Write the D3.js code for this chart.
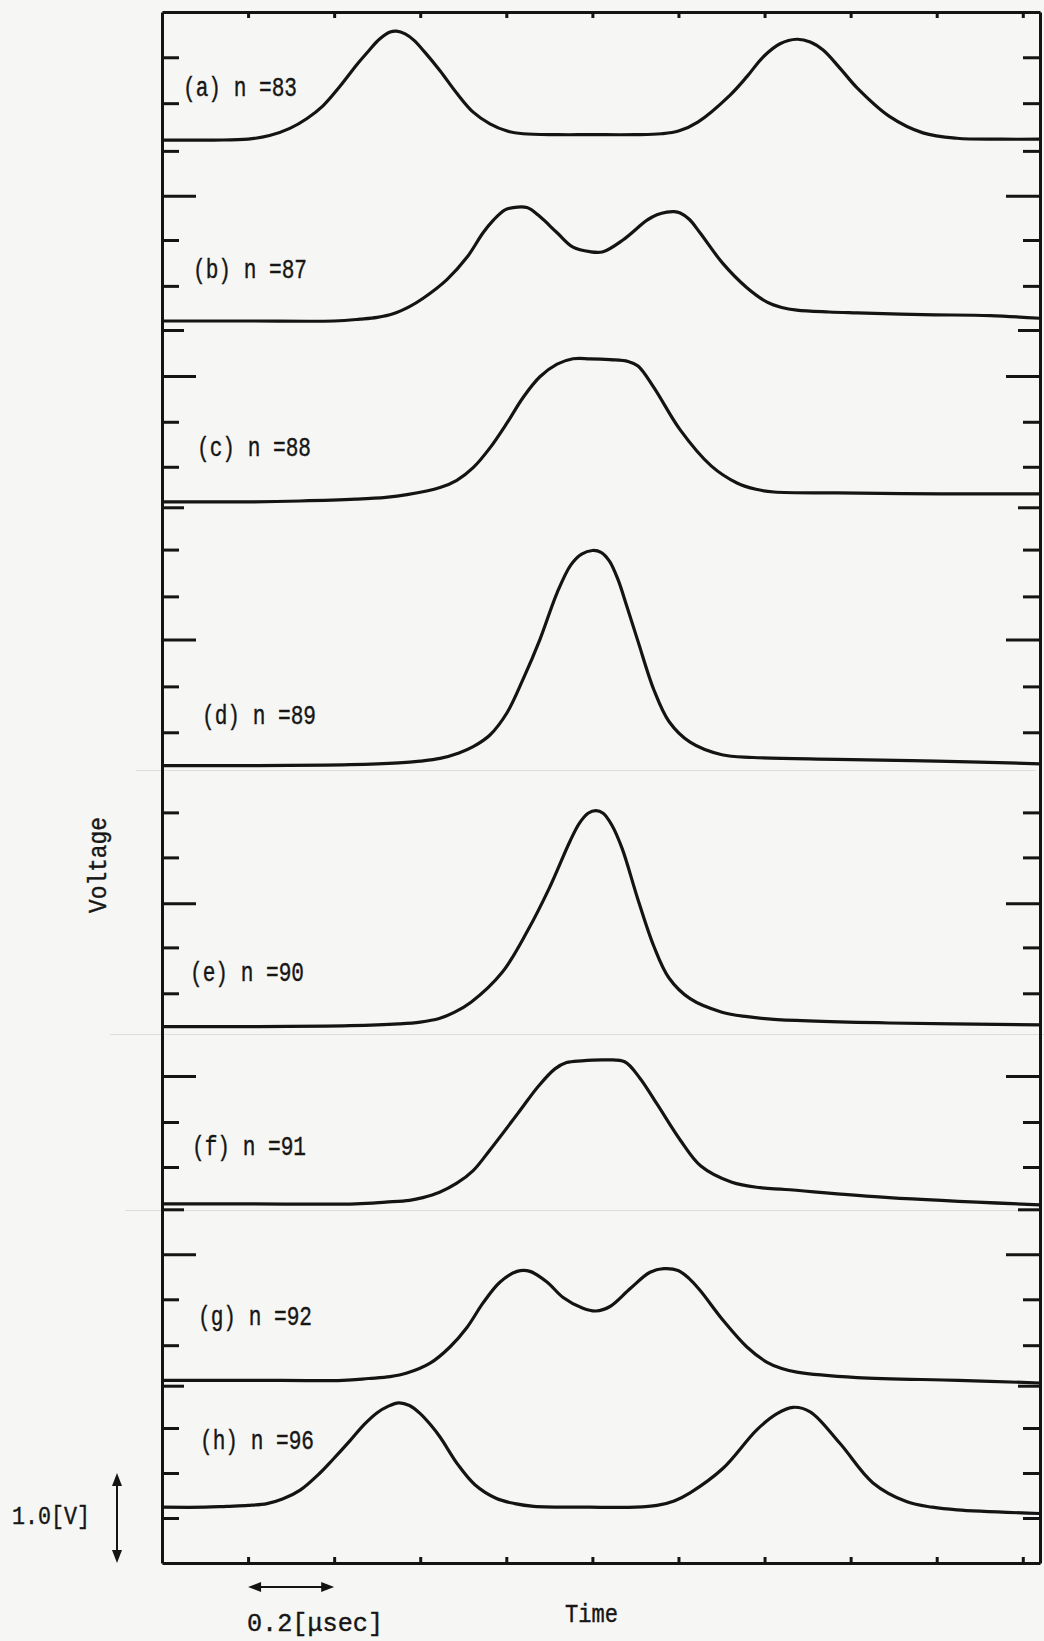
<!DOCTYPE html>
<html>
<head>
<meta charset="utf-8">
<script src="https://cdn.jsdelivr.net/npm/d3@7"></script>
<style>
  html, body { margin: 0; padding: 0; background: #f6f6f4; }
  svg { display: block; }
  text { font-family: "Liberation Mono", "DejaVu Sans Mono", monospace; fill: #161616; }
</style>
</head>
<body>
<svg id="chart" width="1044" height="1641"></svg>
<script>
// ---- data -------------------------------------------------------------
// Trace titles, top to bottom
const traceLabels = ["(a) n =83", "(b) n =87", "(c) n =88", "(d) n =89",
                     "(e) n =90", "(f) n =91", "(g) n =92", "(h) n =96"];

// DC offset of each trace on the shared voltage axis [V]
const traceOffsets = [15.81, 13.80, 11.79, 8.86, 5.96, 3.99, 2.03, 0.62];

// Each trace: [time (µs), voltage above its offset (V)]
const traceA = [[0,0],[0.12,0.0],[0.2,0.01],[0.25,0.05],[0.297,0.13],[0.337,0.24],[0.374,0.38],
  [0.414,0.60],[0.453,0.84],[0.48,0.99],[0.505,1.12],[0.53,1.20],[0.545,1.21],[0.565,1.18],
  [0.585,1.11],[0.61,0.98],[0.646,0.77],[0.685,0.52],[0.723,0.31],[0.762,0.18],[0.802,0.10],
  [0.839,0.07],[0.92,0.06],[0.994,0.06],[1.10,0.06],[1.16,0.07],[1.20,0.10],[1.245,0.20],
  [1.32,0.50],[1.36,0.71],[1.396,0.92],[1.436,1.07],[1.475,1.12],[1.506,1.09],[1.536,1.0],
  [1.575,0.80],[1.615,0.58],[1.691,0.26],[1.768,0.08],[1.847,0.02],[1.95,0.01],[2.04,0.01]];
const traceB = [[0,0],[0.2,0.0],[0.40,0.0],[0.46,0.02],[0.50,0.04],[0.537,0.08],[0.575,0.16],
  [0.606,0.25],[0.662,0.46],[0.709,0.71],[0.746,0.98],[0.77,1.12],[0.795,1.23],[0.816,1.26],
  [0.848,1.26],[0.878,1.16],[0.918,0.98],[0.955,0.82],[0.994,0.77],[1.025,0.77],[1.071,0.90],
  [1.127,1.12],[1.15,1.18],[1.173,1.21],[1.19,1.215],[1.204,1.20],[1.225,1.13],[1.25,0.98],
  [1.303,0.64],[1.359,0.37],[1.406,0.21],[1.44,0.15],[1.475,0.12],[1.55,0.10],[1.615,0.09],
  [1.768,0.07],[1.924,0.06],[2.04,0.03]];
const traceC = [[0,0],[0.2,0.0],[0.321,0.01],[0.45,0.03],[0.52,0.05],[0.569,0.08],[0.646,0.16],
  [0.685,0.24],[0.723,0.38],[0.762,0.60],[0.802,0.88],[0.839,1.16],[0.878,1.39],[0.918,1.53],
  [0.955,1.59],[0.994,1.59],[1.041,1.58],[1.083,1.56],[1.106,1.51],[1.143,1.27],[1.204,0.80],
  [1.276,0.40],[1.336,0.21],[1.38,0.14],[1.422,0.11],[1.568,0.10],[1.81,0.09],[2.04,0.09]];
const traceD = [[0,0],[0.2,0.0],[0.437,0.01],[0.55,0.03],[0.60,0.05],[0.646,0.08],[0.69,0.14],
  [0.723,0.21],[0.762,0.34],[0.802,0.59],[0.839,0.96],[0.878,1.40],[0.918,1.92],[0.95,2.23],
  [0.975,2.35],[1.0,2.39],[1.02,2.37],[1.04,2.27],[1.06,2.06],[1.08,1.77],[1.106,1.38],
  [1.143,0.84],[1.178,0.49],[1.227,0.26],[1.301,0.12],[1.373,0.09],[1.568,0.07],[1.8,0.05],
  [2.04,0.02]];
const traceE = [[0,0],[0.2,0.0],[0.437,0.01],[0.55,0.03],[0.60,0.05],[0.644,0.09],[0.68,0.16],
  [0.718,0.27],[0.79,0.60],[0.85,1.07],[0.899,1.53],[0.948,2.06],[0.97,2.26],[0.99,2.37],
  [1.008,2.40],[1.025,2.37],[1.045,2.24],[1.069,1.98],[1.106,1.41],[1.143,0.89],[1.178,0.54],
  [1.227,0.31],[1.301,0.16],[1.36,0.11],[1.422,0.08],[1.689,0.04],[2.04,0.02]];
const traceF = [[0,0],[0.2,0.0],[0.45,0.0],[0.52,0.02],[0.575,0.04],[0.606,0.07],[0.645,0.13],
  [0.685,0.23],[0.723,0.37],[0.762,0.60],[0.826,1.00],[0.875,1.31],[0.913,1.50],[0.94,1.57],
  [0.975,1.59],[1.03,1.60],[1.075,1.58],[1.11,1.40],[1.15,1.11],[1.204,0.71],[1.252,0.42],
  [1.324,0.24],[1.39,0.18],[1.448,0.16],[1.689,0.07],[2.04,-0.01]];
const traceG = [[0,0],[0.2,0.0],[0.42,0.0],[0.48,0.02],[0.53,0.04],[0.569,0.08],[0.623,0.19],
  [0.669,0.37],[0.709,0.59],[0.746,0.86],[0.785,1.09],[0.825,1.21],[0.855,1.21],[0.895,1.09],
  [0.932,0.92],[0.978,0.80],[1.008,0.77],[1.041,0.82],[1.088,1.02],[1.134,1.20],[1.166,1.24],
  [1.199,1.22],[1.225,1.13],[1.25,1.00],[1.303,0.67],[1.359,0.37],[1.406,0.20],[1.44,0.13],
  [1.475,0.09],[1.615,0.03],[1.85,0.0],[2.04,-0.03]];
const traceH = [[0,0],[0.1,0.0],[0.15,0.01],[0.2,0.02],[0.244,0.04],[0.28,0.09],[0.321,0.19],
  [0.367,0.38],[0.397,0.53],[0.437,0.74],[0.47,0.92],[0.50,1.05],[0.525,1.12],[0.55,1.16],
  [0.575,1.13],[0.60,1.04],[0.625,0.91],[0.646,0.78],[0.688,0.47],[0.727,0.25],[0.776,0.10],
  [0.82,0.04],[0.864,0.01],[0.994,0.0],[1.10,0.0],[1.15,0.02],[1.19,0.07],[1.227,0.16],
  [1.303,0.43],[1.382,0.86],[1.429,1.04],[1.466,1.11],[1.506,1.06],[1.575,0.71],[1.652,0.27],
  [1.731,0.06],[1.79,0.0],[1.847,-0.03],[2.04,-0.07]];
const traces = [traceA, traceB, traceC, traceD, traceE, traceF, traceG, traceH];

// Time ticks every 0.2 µs
const timeTicks = [0.2, 0.4, 0.6, 0.8, 1.0, 1.2, 1.4, 1.6, 1.8, 2.0];
// Graticule marks on the voltage axis [V]
const voltTicksMinor = [16.73, 16.22, 15.69, 14.70, 14.19, 12.68, 12.18, 11.26, 10.74, 9.74, 9.23,
  8.34, 7.84, 6.84, 6.33, 4.90, 4.40, 2.93, 2.42, 1.50, 1.00, 0.50];
const voltTicksMid = [13.70, 11.73, 3.93, 1.97];
const voltTicksMajor = [15.19, 13.19, 10.26, 7.33, 5.41, 3.43];

// ---- layout -----------------------------------------------------------
const plot = { left: 162, right: 1040, top: 12, bottom: 1563 };
const labelAnchors = [[183, 96], [193, 278], [197, 456], [202, 724],
                      [190, 981], [192, 1155], [198, 1325], [200, 1449]];
// faint paste seams between the mounted oscillograms: [y, x0, x1]
const seams = [[770, 136, 1036], [1034, 110, 1044], [1210, 125, 1036]];
const ink = "#141414";

const svg = d3.select("#chart");

const x = d3.scaleLinear().domain([0, 2.04]).range([plot.left, plot.right]);
const y = d3.scaleLinear().domain([0, 17.233]).range([plot.bottom, plot.top]);

svg.append("g").selectAll("line.seam")
  .data(seams)
  .join("line")
  .attr("class", "seam")
  .attr("x1", d => d[1]).attr("x2", d => d[2])
  .attr("y1", d => d[0] + 0.5).attr("y2", d => d[0] + 0.5)
  .attr("stroke", "#dedede").attr("stroke-width", 1);

function styleAxis(g) {
  g.select(".domain").attr("stroke", ink).attr("stroke-width", 3);
  g.selectAll(".tick line").attr("stroke", ink).attr("stroke-width", 3);
  g.selectAll(".tick text").remove();
}

// Top and bottom time axes, ticks pointing inward
svg.append("g").attr("transform", `translate(0,${plot.top})`)
  .call(d3.axisBottom(x).tickValues(timeTicks).tickSize(6).tickSizeOuter(0).tickFormat(""))
  .call(styleAxis);
svg.append("g").attr("transform", `translate(0,${plot.bottom})`)
  .call(d3.axisTop(x).tickValues(timeTicks).tickSize(6).tickSizeOuter(0).tickFormat(""))
  .call(styleAxis);

// Left and right voltage axes, three tick lengths
const tickSets = [[voltTicksMinor, 17], [voltTicksMid, 22], [voltTicksMajor, 34]];
tickSets.forEach(([vals, len], i) => {
  const gl = svg.append("g").attr("transform", `translate(${plot.left},0)`)
    .call(d3.axisRight(y).tickValues(vals).tickSize(len).tickSizeOuter(0).tickFormat(""))
    .call(styleAxis);
  const gr = svg.append("g").attr("transform", `translate(${plot.right},0)`)
    .call(d3.axisLeft(y).tickValues(vals).tickSize(len).tickSizeOuter(0).tickFormat(""))
    .call(styleAxis);
  if (i > 0) { gl.select(".domain").remove(); gr.select(".domain").remove(); }
});

// Traces
const line = d3.line()
  .x(d => x(d[0]))
  .curve(d3.curveCatmullRom.alpha(0.5));

svg.append("g").selectAll("path.trace")
  .data(traces)
  .join("path")
  .attr("class", "trace")
  .attr("fill", "none")
  .attr("stroke", ink)
  .attr("stroke-width", 3.2)
  .attr("stroke-linejoin", "round")
  .attr("d", (pts, i) => line.y(d => y(traceOffsets[i] + d[1]))(pts));

// Trace titles
svg.append("g").selectAll("text.label")
  .data(traceLabels)
  .join("text")
  .attr("class", "label")
  .attr("x", (d, i) => labelAnchors[i][0])
  .attr("y", (d, i) => labelAnchors[i][1])
  .attr("font-size", 27)
  .attr("textLength", 114)
  .attr("lengthAdjust", "spacingAndGlyphs")
  .attr("stroke", "#161616").attr("stroke-width", 0.4)
  .text(d => d);

// Axis titles
svg.append("text")
  .attr("transform", "translate(106,865) rotate(-90)")
  .attr("text-anchor", "middle")
  .attr("font-size", 25)
  .attr("textLength", 96)
  .attr("lengthAdjust", "spacingAndGlyphs")
  .attr("stroke", "#161616").attr("stroke-width", 0.4)
  .text("Voltage");

svg.append("text")
  .attr("x", 565).attr("y", 1622)
  .attr("font-size", 25)
  .attr("textLength", 53)
  .attr("lengthAdjust", "spacingAndGlyphs")
  .attr("stroke", "#161616").attr("stroke-width", 0.4)
  .text("Time");

// Scale bars: 1.0 V and 0.2 µs
function arrowHead(px, py, dir) {
  // dir: unit vector the head points toward
  const [dx, dy] = dir, L = 13, Wd = 5;
  const bx = px - dx * L, by = py - dy * L;
  return `M${px},${py}L${bx - dy * Wd},${by + dx * Wd}L${bx + dy * Wd},${by - dx * Wd}Z`;
}

const vx = 117, vTop = y(1.0), vBot = y(0);
svg.append("line").attr("x1", vx).attr("x2", vx).attr("y1", vTop + 6).attr("y2", vBot - 6)
  .attr("stroke", ink).attr("stroke-width", 2);
svg.append("path").attr("d", arrowHead(vx, vTop, [0, -1])).attr("fill", ink);
svg.append("path").attr("d", arrowHead(vx, vBot, [0, 1])).attr("fill", ink);

svg.append("text")
  .attr("x", 12).attr("y", 1524)
  .attr("font-size", 25)
  .attr("textLength", 78)
  .attr("lengthAdjust", "spacingAndGlyphs")
  .attr("stroke", "#161616").attr("stroke-width", 0.4)
  .text("1.0[V]");

const hy = 1587, hL = x(0.2), hR = x(0.4);
svg.append("line").attr("x1", hL + 6).attr("x2", hR - 6).attr("y1", hy).attr("y2", hy)
  .attr("stroke", ink).attr("stroke-width", 2);
svg.append("path").attr("d", arrowHead(hL, hy, [-1, 0])).attr("fill", ink);
svg.append("path").attr("d", arrowHead(hR, hy, [1, 0])).attr("fill", ink);

svg.append("text")
  .attr("x", 247).attr("y", 1631)
  .attr("font-size", 25)
  .attr("textLength", 136)
  .attr("lengthAdjust", "spacingAndGlyphs")
  .attr("stroke", "#161616").attr("stroke-width", 0.4)
  .text("0.2[μsec]");
</script>
</body>
</html>
